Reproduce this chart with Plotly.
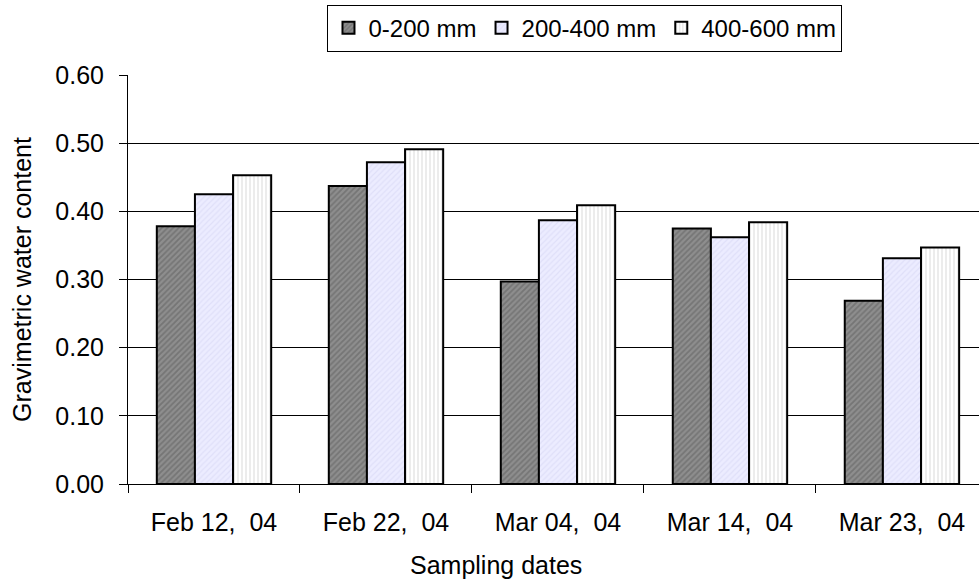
import plotly.graph_objects as go

# Sampling dates and gravimetric water content by soil depth
dates = ["Feb 12,  04", "Feb 22,  04", "Mar 04,  04", "Mar 14,  04", "Mar 23,  04"]
depth_0_200 = [0.378, 0.437, 0.297, 0.375, 0.269]
depth_200_400 = [0.425, 0.472, 0.387, 0.362, 0.331]
depth_400_600 = [0.453, 0.491, 0.409, 0.384, 0.347]
y_ticks = [0.0, 0.1, 0.2, 0.3, 0.4, 0.5, 0.6]

series = [
    ("0-200 mm", depth_0_200, dict(shape="/", bgcolor="#8e8e8e", fgcolor="#5c5c5c", size=4, solidity=0.45)),
    ("200-400 mm", depth_200_400, dict(shape="/", bgcolor="#ececff", fgcolor="#d2d2f2", size=4, solidity=0.3)),
    ("400-600 mm", depth_400_600, dict(shape="|", bgcolor="#ffffff", fgcolor="#cfcfcf", size=4, solidity=0.4)),
]

fig = go.Figure()
for name, vals, pattern in series:
    fig.add_trace(go.Bar(
        name=name,
        x=dates,
        y=vals,
        marker=dict(color=pattern["bgcolor"], pattern=pattern,
                    line=dict(color="black", width=2)),
    ))

fs = 25
font = dict(family="Liberation Sans, Arial, sans-serif", size=fs, color="black")

fig.update_layout(
    width=979,
    height=586,
    margin=dict(l=128, r=0, t=75, b=102),
    paper_bgcolor="white",
    plot_bgcolor="white",
    font=font,
    barmode="group",
    bargap=0.335,
    bargroupgap=0,
    legend=dict(
        orientation="h",
        x=0.537, xanchor="center",
        y=1.172, yanchor="top",
        bordercolor="black", borderwidth=1,
        font=dict(size=24),
        itemwidth=30,
        tracegroupgap=0,
    ),
    xaxis=dict(
        range=[-0.5, 4.448],
        showline=True, linecolor="black", linewidth=1,
        ticks="outside", tickson="boundaries", ticklen=8, tickcolor="black",
        showgrid=False,
        automargin=False,
        ticklabelstandoff=16,
    ),
    yaxis=dict(
        range=[0, 0.6],
        tickvals=y_ticks,
        tickformat=".2f",
        showline=True, linecolor="black", linewidth=1,
        ticks="outside", ticklen=8, tickcolor="black",
        showgrid=True, gridcolor="black", gridwidth=1,
        zeroline=False,
        automargin=False,
        ticklabelstandoff=10,
        title=dict(text="Gravimetric water content", font=dict(size=fs), standoff=16),
    ),
    annotations=[
        dict(text="Sampling dates", xref="paper", yref="paper",
             x=0.4324, y=-0.198, xanchor="center", yanchor="middle",
             showarrow=False, font=dict(size=fs)),
    ],
)

fig.write_html("out.html")
